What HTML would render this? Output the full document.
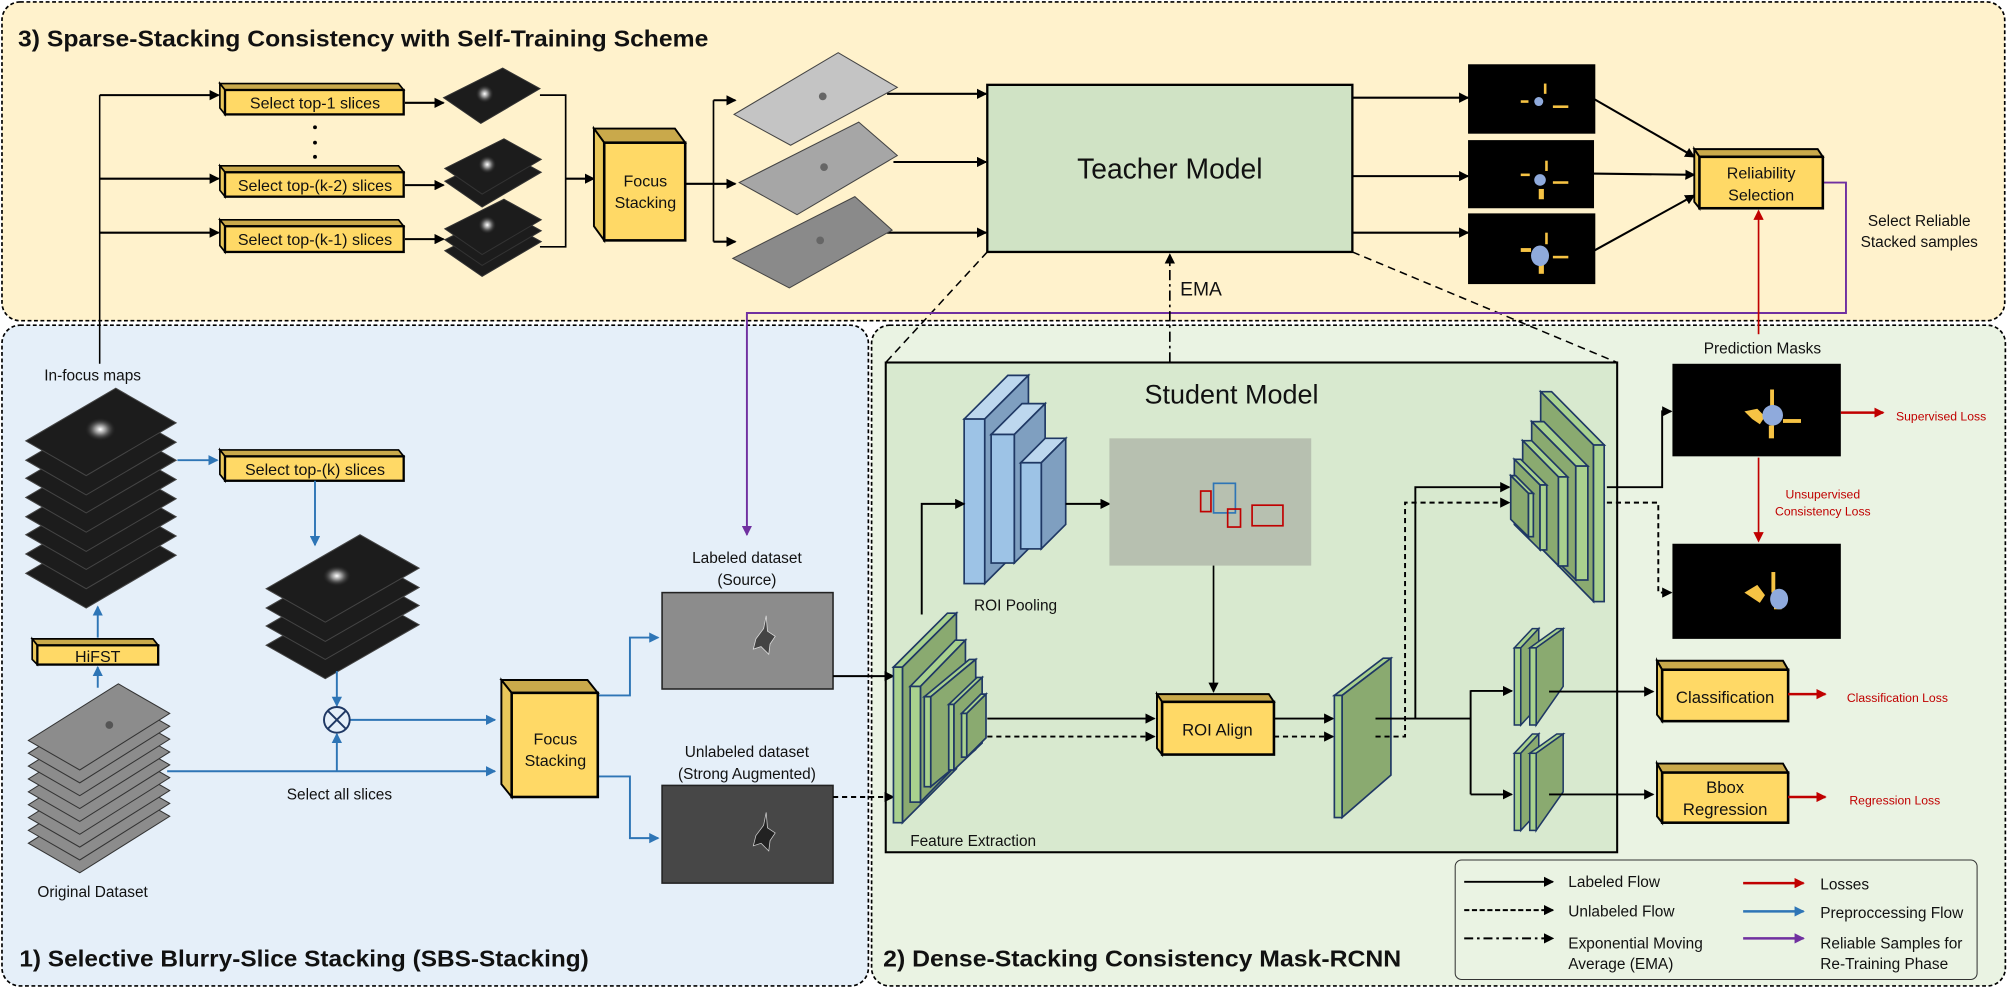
<!DOCTYPE html>
<html><head><meta charset="utf-8"><style>
html,body{margin:0;padding:0;background:#fff;}
svg{display:block;}
text{font-family:"Liberation Sans",sans-serif;fill:#111;}
</style></head><body>
<svg width="2008" height="988" viewBox="0 0 1562 768.6" xmlns="http://www.w3.org/2000/svg">
<defs>
<marker id="ak" markerWidth="8" markerHeight="8" refX="7" refY="4" orient="auto" markerUnits="userSpaceOnUse"><path d="M0,0 L8,4 L0,8 z" fill="#000"/></marker>
<marker id="ab" markerWidth="8" markerHeight="8" refX="7" refY="4" orient="auto" markerUnits="userSpaceOnUse"><path d="M0,0 L8,4 L0,8 z" fill="#2E75B6"/></marker>
<marker id="ar" markerWidth="8" markerHeight="8" refX="7" refY="4" orient="auto" markerUnits="userSpaceOnUse"><path d="M0,0 L8,4 L0,8 z" fill="#C00000"/></marker>
<marker id="ap" markerWidth="8" markerHeight="8" refX="7" refY="4" orient="auto" markerUnits="userSpaceOnUse"><path d="M0,0 L8,4 L0,8 z" fill="#7030A0"/></marker>
<radialGradient id="glow" cx="0.5" cy="0.5" r="0.5"><stop offset="0" stop-color="#fff"/><stop offset="0.4" stop-color="#888"/><stop offset="1" stop-color="#222" stop-opacity="0"/></radialGradient>
</defs>

<!-- panels -->
<rect x="1.5" y="1.5" width="1558" height="248" rx="14" fill="#FFF2CC" stroke="#000" stroke-width="1.3" stroke-dasharray="3,2"/>
<rect x="1.5" y="253" width="674" height="514" rx="14" fill="#E5EFF9" stroke="#000" stroke-width="1.3" stroke-dasharray="3,2"/>
<rect x="678" y="253" width="882" height="514" rx="14" fill="#EAF3E3" stroke="#000" stroke-width="1.3" stroke-dasharray="3,2"/>

<text x="14" y="36" font-size="18" font-weight="bold" textLength="537" lengthAdjust="spacingAndGlyphs">3) Sparse-Stacking Consistency with Self-Training Scheme</text>
<text x="15" y="752" font-size="18" font-weight="bold" textLength="443" lengthAdjust="spacingAndGlyphs">1) Selective Blurry-Slice Stacking (SBS-Stacking)</text>
<text x="687" y="752" font-size="18" font-weight="bold" textLength="403" lengthAdjust="spacingAndGlyphs">2) Dense-Stacking Consistency Mask-RCNN</text>

<!-- student box -->
<rect x="689" y="282" width="569" height="381" fill="#D8E9CF" stroke="#000" stroke-width="1.6"/>
<text x="958" y="314" font-size="21" text-anchor="middle">Student Model</text>

<!-- teacher -->
<rect x="768" y="66" width="284" height="130" fill="#D0E3C5" stroke="#000" stroke-width="1.8"/>
<text x="910" y="139" font-size="22" text-anchor="middle">Teacher Model</text>
<line x1="768" y1="196" x2="689" y2="282" stroke="#000" stroke-width="1.2" stroke-dasharray="6,4"/>
<line x1="1052" y1="196" x2="1258" y2="282" stroke="#000" stroke-width="1.2" stroke-dasharray="6,4"/>

<!-- purple feedback -->
<polyline points="1418,142 1436,142 1436,243.5 581,243.5 581,416" fill="none" stroke="#7030A0" stroke-width="1.5" marker-end="url(#ap)"/>
<text x="1493" y="176" font-size="12" text-anchor="middle">Select Reliable</text>
<text x="1493" y="192" font-size="12" text-anchor="middle">Stacked samples</text>

<!-- left vertical black & select arrows -->
<line x1="77.5" y1="74" x2="77.5" y2="283" stroke="#000" stroke-width="1.2"/>
<g stroke="#000" stroke-width="1.6" fill="none" marker-end="url(#ak)">
<line x1="77.5" y1="74" x2="170" y2="74"/>
<line x1="77.5" y1="139" x2="170" y2="139"/>
<line x1="77.5" y1="181" x2="170" y2="181"/>
<line x1="315" y1="80" x2="345" y2="80"/>
<line x1="315" y1="144" x2="345" y2="144"/>
<line x1="315" y1="186" x2="345" y2="186"/>
<line x1="440" y1="139" x2="462" y2="139"/>
<line x1="555" y1="78" x2="572" y2="78"/>
<line x1="555" y1="143" x2="572" y2="143"/>
<line x1="555" y1="188" x2="572" y2="188"/>
<line x1="690" y1="73" x2="767" y2="73"/>
<line x1="695" y1="126" x2="767" y2="126"/>
<line x1="690" y1="181" x2="767" y2="181"/>
<line x1="1052" y1="76" x2="1142" y2="76"/>
<line x1="1052" y1="137" x2="1142" y2="137"/>
<line x1="1052" y1="181" x2="1142" y2="181"/>
<line x1="1240" y1="77" x2="1318" y2="122"/>
<line x1="1238" y1="135" x2="1318" y2="136"/>
<line x1="1240" y1="195" x2="1318" y2="152"/>
</g>
<polyline points="420,74 440,74 440,192 420,192" fill="none" stroke="#000" stroke-width="1.3"/>
<polyline points="533,143 555,143" fill="none" stroke="#000" stroke-width="1.6"/>
<line x1="555" y1="78" x2="555" y2="188" stroke="#000" stroke-width="1.3"/>
<g fill="#000"><circle cx="245" cy="99" r="1.5"/><circle cx="245" cy="111" r="1.5"/><circle cx="245" cy="122" r="1.5"/></g>

<!-- yellow boxes: select -->
<g stroke="#000" stroke-width="1.3">
<g><polygon points="171,65 310,65 314,70 175,70" fill="#C9A94B"/><polygon points="171,65 175,70 175,89 171,84" fill="#E9C75A"/><rect x="175" y="70" width="139" height="19" fill="#FFD966" stroke-width="1.8"/></g>
<g><polygon points="171,129 310,129 314,134 175,134" fill="#C9A94B"/><polygon points="171,129 175,134 175,153 171,148" fill="#E9C75A"/><rect x="175" y="134" width="139" height="19" fill="#FFD966" stroke-width="1.8"/></g>
<g><polygon points="171,171 310,171 314,176 175,176" fill="#C9A94B"/><polygon points="171,171 175,176 175,196 171,191" fill="#E9C75A"/><rect x="175" y="176" width="139" height="20" fill="#FFD966" stroke-width="1.8"/></g>
<g><polygon points="171,350 310,350 314,355 175,355" fill="#C9A94B"/><polygon points="171,350 175,355 175,374 171,369" fill="#E9C75A"/><rect x="175" y="355" width="139" height="19" fill="#FFD966" stroke-width="1.8"/></g>
</g>
<g font-size="12.5" text-anchor="middle">
<text x="245" y="84.5">Select top-1 slices</text>
<text x="245" y="148.5">Select top-(k-2) slices</text>
<text x="245" y="190.5">Select top-(k-1) slices</text>
<text x="245" y="369.5">Select top-(k) slices</text>
</g>

<!-- focus stacking top -->
<g stroke="#000" stroke-width="1.5">
<polygon points="462,100 525,100 533,111 470,111" fill="#C9A94B"/>
<polygon points="462,100 470,111 470,187 462,176" fill="#E9C75A"/>
<rect x="470" y="111" width="63" height="76" fill="#FFD966" stroke-width="2"/>
</g>
<text x="502" y="145" font-size="12.5" text-anchor="middle">Focus</text>
<text x="502" y="162" font-size="12.5" text-anchor="middle">Stacking</text>

<!-- dark diamonds top -->
<g stroke="#333" stroke-width="0.8" fill="#1c1c1c">
<polygon points="391,53 420,69 374,96 345,76"/>
<polygon points="392,118 421,134 375,161 346,141"/>
<polygon points="392,108 421,124 375,151 346,131"/>
<polygon points="392,172 421,188 375,215 346,195"/>
<polygon points="392,163.5 421,179.5 375,206.5 346,186.5"/>
<polygon points="392,155 421,171 375,198 346,178"/>
</g>
<g fill="url(#glow)"><circle cx="377" cy="73" r="7"/><circle cx="379" cy="128" r="7"/><circle cx="379" cy="175" r="7"/></g>

<!-- gray slides top -->
<g stroke="#444" stroke-width="0.8">
<polygon points="652,41 698,68 615,113 571,89" fill="#C4C4C4"/>
<polygon points="668,95 698,121 620,167 575,142" fill="#A6A6A6"/>
<polygon points="665,153 694,179 614,224 570,201" fill="#8A8A8A"/>
</g>
<g fill="#666"><circle cx="640" cy="75" r="3"/><circle cx="641" cy="130" r="3"/><circle cx="638" cy="187" r="3"/></g>

<!-- masks top -->
<g fill="#000"><rect x="1142" y="50" width="99" height="54"/><rect x="1142" y="109" width="98" height="53"/><rect x="1142" y="166" width="99" height="55"/></g>
<g fill="#F6C344"><rect x="1201" y="65" width="2" height="8"/><rect x="1183" y="78" width="6" height="2"/><rect x="1208" y="82" width="12" height="2"/>
<rect x="1202" y="125" width="2" height="8"/><rect x="1183" y="135" width="7" height="2"/><rect x="1208" y="141" width="12" height="2"/><rect x="1197" y="147" width="4" height="8"/>
<rect x="1202" y="181" width="2" height="9"/><rect x="1183" y="193" width="8" height="3"/><rect x="1208" y="199" width="12" height="2"/><rect x="1197" y="204" width="4" height="9"/></g>
<g fill="#8FAADC"><circle cx="1197" cy="79" r="3.5"/><circle cx="1198" cy="140" r="4.5"/><ellipse cx="1198" cy="199" rx="7" ry="8"/></g>

<!-- reliability -->
<g stroke="#000" stroke-width="1.5">
<polygon points="1318,116 1414,116 1418,122 1322,122" fill="#C9A94B"/>
<polygon points="1318,116 1322,122 1322,162 1318,157" fill="#E9C75A"/>
<rect x="1322" y="122" width="96" height="40" fill="#FFD966" stroke-width="2"/>
</g>
<text x="1370" y="139" font-size="12.5" text-anchor="middle">Reliability</text>
<text x="1370" y="156" font-size="12.5" text-anchor="middle">Selection</text>
<line x1="1368" y1="260" x2="1368" y2="164" stroke="#C00000" stroke-width="1.3" marker-end="url(#ar)"/>

<!-- EMA -->
<line x1="910" y1="282" x2="910" y2="198" stroke="#000" stroke-width="1.3" stroke-dasharray="8,3,2,3" marker-end="url(#ak)"/>
<text x="918" y="230" font-size="15">EMA</text>

<!-- ===== bottom-left ===== -->
<text x="72" y="296" font-size="12" text-anchor="middle">In-focus maps</text>
<g stroke="#444" stroke-width="0.8" fill="#1c1c1c">
<polygon points="90,405 137,432 67,473 20,446"/>
<polygon points="90,390 137,417 67,458 20,431"/>
<polygon points="90,375 137,402 67,443 20,416"/>
<polygon points="90,361 137,388 67,429 20,402"/>
<polygon points="90,346 137,373 67,414 20,387"/>
<polygon points="90,331 137,358 67,399 20,372"/>
<polygon points="90,317 137,344 67,385 20,358"/>
<polygon points="90,302 137,329 67,370 20,343"/>
</g>
<ellipse cx="78" cy="334" rx="12" ry="9" fill="url(#glow)"/>
<line x1="138" y1="358" x2="169" y2="358" stroke="#2E75B6" stroke-width="1.5" marker-end="url(#ab)"/>
<line x1="245" y1="374" x2="245" y2="424" stroke="#2E75B6" stroke-width="1.5" marker-end="url(#ab)"/>

<g stroke="#444" stroke-width="0.8" fill="#1c1c1c">
<polygon points="280,460 326,486 253,528 207,502"/>
<polygon points="280,445 326,471 253,513 207,487"/>
<polygon points="280,431 326,457 253,499 207,473"/>
<polygon points="280,416 326,442 253,484 207,458"/>
</g>
<ellipse cx="262" cy="448" rx="11" ry="8" fill="url(#glow)"/>

<!-- HiFST -->
<g stroke="#000" stroke-width="1.3">
<polygon points="25,497 119,497 123,502 29,502" fill="#C9A94B"/>
<polygon points="25,497 29,502 29,517 25,513" fill="#E9C75A"/>
<rect x="29" y="502" width="94" height="15" fill="#FFD966" stroke-width="1.8"/>
</g>
<text x="76" y="515" font-size="12.5" text-anchor="middle">HiFST</text>
<line x1="76" y1="535" x2="76" y2="519" stroke="#2E75B6" stroke-width="1.5" marker-end="url(#ab)"/>
<line x1="76" y1="496" x2="76" y2="472" stroke="#2E75B6" stroke-width="1.5" marker-end="url(#ab)"/>

<!-- original dataset -->
<g stroke="#333" stroke-width="0.8" fill="#8C8C8C">
<polygon points="92,612 132,635 62,679 22,656"/>
<polygon points="92,602 132,625 62,669 22,646"/>
<polygon points="92,592 132,615 62,659 22,636"/>
<polygon points="92,582 132,605 62,649 22,626"/>
<polygon points="92,572 132,595 62,639 22,616"/>
<polygon points="92,562 132,585 62,629 22,606"/>
<polygon points="92,552 132,575 62,619 22,596"/>
<polygon points="92,542 132,565 62,609 22,586"/>
<polygon points="92,532 132,555 62,599 22,576"/>
</g>
<circle cx="85" cy="564" r="3" fill="#555"/>
<text x="72" y="698" font-size="12" text-anchor="middle">Original Dataset</text>

<g stroke="#2E75B6" stroke-width="1.5" fill="none">
<line x1="130" y1="600" x2="385" y2="600" marker-end="url(#ab)"/>
<line x1="262" y1="600" x2="262" y2="571" marker-end="url(#ab)"/>
<line x1="262" y1="522" x2="262" y2="549" marker-end="url(#ab)"/>
<line x1="272" y1="560" x2="385" y2="560" marker-end="url(#ab)"/>
<polyline points="465,541 490,541 490,496 512,496" marker-end="url(#ab)"/>
<polyline points="465,604 490,604 490,652 512,652" marker-end="url(#ab)"/>
</g>
<circle cx="262" cy="560" r="10" fill="#fff" fill-opacity="0" stroke="#1F3864" stroke-width="1.5"/>
<line x1="255" y1="553" x2="269" y2="567" stroke="#1F3864" stroke-width="1.5"/>
<line x1="269" y1="553" x2="255" y2="567" stroke="#1F3864" stroke-width="1.5"/>
<text x="264" y="622" font-size="12" text-anchor="middle">Select all slices</text>

<g stroke="#000" stroke-width="1.5">
<polygon points="390,529 457,529 465,539 398,539" fill="#C9A94B"/>
<polygon points="390,529 398,539 398,620 390,610" fill="#E9C75A"/>
<rect x="398" y="539" width="67" height="81" fill="#FFD966" stroke-width="2"/>
</g>
<text x="432" y="579" font-size="12.5" text-anchor="middle">Focus</text>
<text x="432" y="596" font-size="12.5" text-anchor="middle">Stacking</text>

<text x="581" y="438" font-size="12" text-anchor="middle">Labeled dataset</text>
<text x="581" y="455" font-size="12" text-anchor="middle">(Source)</text>
<rect x="515" y="461" width="133" height="75" fill="#8C8C8C" stroke="#222" stroke-width="1.2"/>
<path d="M588,497 l6,-8 l2,-10 l1,12 l6,4 l-4,6 l-1,8 l-6,-6 l-6,2z" fill="#444" stroke="#ddd" stroke-width="0.6"/>
<text x="581" y="589" font-size="12" text-anchor="middle">Unlabeled dataset</text>
<text x="581" y="606" font-size="12" text-anchor="middle">(Strong Augmented)</text>
<rect x="515" y="611" width="133" height="76" fill="#474747" stroke="#222" stroke-width="1.2"/>
<path d="M588,650 l6,-8 l2,-10 l1,12 l6,4 l-4,6 l-1,8 l-6,-6 l-6,2z" fill="#222" stroke="#ccc" stroke-width="0.6"/>

<line x1="648" y1="526" x2="695" y2="526" stroke="#000" stroke-width="1.6" marker-end="url(#ak)"/>
<line x1="648" y1="620" x2="695" y2="620" stroke="#000" stroke-width="1.6" stroke-dasharray="4,3" marker-end="url(#ak)"/>

<!-- ===== student internals ===== -->
<!-- ROI pooling blue slabs -->
<g stroke="#1F3864" stroke-width="1.3">
<polygon points="750,326 784,292 800,292 766,326" fill="#BDD7EE"/>
<polygon points="766,326 800,292 800,420 766,454" fill="#7F9FC0"/>
<rect x="750" y="326" width="16" height="128" fill="#9DC3E6"/>
<polygon points="771,338 795,314 813,314 789,338" fill="#BDD7EE"/>
<polygon points="789,338 813,314 813,414 789,438" fill="#7F9FC0"/>
<rect x="771" y="338" width="18" height="100" fill="#9DC3E6"/>
<polygon points="794,360 813,341 829,341 810,360" fill="#BDD7EE"/>
<polygon points="810,360 829,341 829,408 810,427" fill="#7F9FC0"/>
<rect x="794" y="360" width="16" height="67" fill="#9DC3E6"/>
</g>
<text x="790" y="475" font-size="12" text-anchor="middle">ROI Pooling</text>

<!-- feature extraction green slabs -->
<g stroke="#1F3864" stroke-width="1.3">
<polygon points="695,519 737,477 744,477 702,519" fill="#A9D18E"/>
<polygon points="702,519 744,477 744,598 702,640" fill="#8AAA70"/>
<rect x="695" y="519" width="7" height="121" fill="#A9D18E"/>
<polygon points="708,534 743,498 751,498 716,534" fill="#A9D18E"/>
<polygon points="716,534 751,498 751,588 716,624" fill="#8AAA70"/>
<rect x="708" y="534" width="8" height="90" fill="#A9D18E"/>
<polygon points="719,542 754,513 759,513 724,542" fill="#A9D18E"/>
<polygon points="724,542 759,513 759,583 724,612" fill="#8AAA70"/>
<rect x="719" y="542" width="5" height="70" fill="#A9D18E"/>
<polygon points="738,548 760,527 764,527 742,548" fill="#A9D18E"/>
<polygon points="742,548 764,527 764,578 742,599" fill="#8AAA70"/>
<rect x="738" y="548" width="4" height="51" fill="#A9D18E"/>
<polygon points="748,555 763,540 767,540 752,555" fill="#A9D18E"/>
<polygon points="752,555 767,540 767,574 752,589" fill="#8AAA70"/>
<rect x="748" y="555" width="4" height="34" fill="#A9D18E"/>
</g>
<text x="757" y="658" font-size="12" text-anchor="middle">Feature Extraction</text>

<polyline points="717,478 717,392 750,392" fill="none" stroke="#000" stroke-width="1.5" marker-end="url(#ak)"/>
<line x1="829" y1="392" x2="863" y2="392" stroke="#000" stroke-width="1.5" marker-end="url(#ak)"/>

<!-- gray image with boxes -->
<rect x="863" y="341" width="157" height="99" fill="#B7C0B0"/>
<g fill="none" stroke-width="1.3">
<rect x="944" y="376" width="17" height="23" stroke="#2E75B6"/>
<rect x="934" y="382" width="8" height="16" stroke="#C00000"/>
<rect x="955" y="396" width="10" height="14" stroke="#C00000"/>
<rect x="974" y="393" width="24" height="16" stroke="#C00000"/>
</g>
<line x1="944" y1="440" x2="944" y2="538" stroke="#000" stroke-width="1.3" marker-end="url(#ak)"/>

<!-- ROI align -->
<g stroke="#000" stroke-width="1.5">
<polygon points="900,540 987,540 991,546 904,546" fill="#C9A94B"/>
<polygon points="900,540 904,546 904,587 900,582" fill="#E9C75A"/>
<rect x="904" y="546" width="87" height="41" fill="#FFD966" stroke-width="2"/>
</g>
<text x="947" y="572" font-size="13" text-anchor="middle">ROI Align</text>
<line x1="768" y1="559" x2="898" y2="559" stroke="#000" stroke-width="1.5" marker-end="url(#ak)"/>
<line x1="768" y1="573" x2="898" y2="573" stroke="#000" stroke-width="1.5" stroke-dasharray="4,3" marker-end="url(#ak)"/>
<line x1="991" y1="559" x2="1037" y2="559" stroke="#000" stroke-width="1.5" marker-end="url(#ak)"/>
<line x1="991" y1="573" x2="1037" y2="573" stroke="#000" stroke-width="1.5" stroke-dasharray="4,3" marker-end="url(#ak)"/>

<!-- tall slab -->
<g stroke="#1F3864" stroke-width="1.3">
<polygon points="1038,541 1076,512 1082,512 1044,541" fill="#A9D18E"/>
<polygon points="1044,541 1082,512 1082,603 1044,636" fill="#8AAA70"/>
<rect x="1038" y="541" width="6" height="95" fill="#A9D18E"/>
</g>

<!-- lines to mask head / box heads -->
<polyline points="1070,559 1101,559 1101,379 1174,379" fill="none" stroke="#000" stroke-width="1.5" marker-end="url(#ak)"/>
<polyline points="1070,573 1093,573 1093,391 1174,391" fill="none" stroke="#000" stroke-width="1.5" stroke-dasharray="4,3" marker-end="url(#ak)"/>
<polyline points="1101,559 1144,559" fill="none" stroke="#000" stroke-width="1.5"/>
<polyline points="1144,537 1144,618" fill="none" stroke="#000" stroke-width="1.5"/>
<line x1="1144" y1="537.5" x2="1176" y2="537.5" stroke="#000" stroke-width="1.5" marker-end="url(#ak)"/>
<line x1="1144" y1="618" x2="1176" y2="618" stroke="#000" stroke-width="1.5" marker-end="url(#ak)"/>

<!-- mask head slabs (front on right) -->
<g stroke="#1F3864" stroke-width="1.3">
<polygon points="1198.5,304.7 1207,304.7 1248,346.2 1239.6,346.2" fill="#A9D18E"/>
<polygon points="1198.5,304.7 1239.6,346.2 1239.6,468 1198.5,426" fill="#8AAA70"/>
<rect x="1239.6" y="346.2" width="8.3" height="121.8" fill="#A9D18E"/>
<polygon points="1191.5,328 1201,328 1235.2,362.6 1225.8,362.6" fill="#A9D18E"/>
<polygon points="1191.5,328 1225.8,362.6 1225.8,451 1191.5,417" fill="#8AAA70"/>
<rect x="1225.8" y="362.6" width="9.4" height="88.6" fill="#A9D18E"/>
<polygon points="1184.5,342.8 1191.5,342.8 1219.5,371 1212.3,371" fill="#A9D18E"/>
<polygon points="1184.5,342.8 1212.3,371 1212.3,440 1184.5,412" fill="#8AAA70"/>
<rect x="1212.3" y="371" width="7.2" height="69.3" fill="#A9D18E"/>
<polygon points="1178,357.3 1183,357.3 1203.2,377.3 1198,377.3" fill="#A9D18E"/>
<polygon points="1178,357.3 1198,377.3 1198,427.8 1178,408" fill="#8AAA70"/>
<rect x="1198" y="377.3" width="5.2" height="50.5" fill="#A9D18E"/>
<polygon points="1175.2,370 1179,370 1192.8,383.8 1189,383.8" fill="#A9D18E"/>
<polygon points="1175.2,370 1189,383.8 1189,417.5 1175.2,404" fill="#8AAA70"/>
<rect x="1189" y="383.8" width="3.8" height="33.7" fill="#A9D18E"/>
</g>

<!-- small slab pairs -->
<g stroke="#1F3864" stroke-width="1.2">
<polygon points="1178,504 1192,489 1197,489 1183,504" fill="#A9D18E"/><polygon points="1183,504 1197,489 1197,549 1183,564" fill="#8AAA70"/><rect x="1178" y="504" width="5" height="60" fill="#A9D18E"/>
<polygon points="1190,504 1211,489 1216,489 1195,504" fill="#A9D18E"/><polygon points="1195,504 1216,489 1216,534 1195,564" fill="#8AAA70"/><rect x="1190" y="504" width="5" height="60" fill="#A9D18E"/>
<polygon points="1178,586 1192,571 1197,571 1183,586" fill="#A9D18E"/><polygon points="1183,586 1197,571 1197,631 1183,646" fill="#8AAA70"/><rect x="1178" y="586" width="5" height="60" fill="#A9D18E"/>
<polygon points="1190,586 1211,571 1216,571 1195,586" fill="#A9D18E"/><polygon points="1195,586 1216,571 1216,616 1195,646" fill="#8AAA70"/><rect x="1190" y="586" width="5" height="60" fill="#A9D18E"/>
</g>
<line x1="1205" y1="538" x2="1286" y2="538" stroke="#000" stroke-width="1.5" marker-end="url(#ak)"/>
<line x1="1205" y1="618" x2="1286" y2="618" stroke="#000" stroke-width="1.5" marker-end="url(#ak)"/>

<!-- classification / bbox -->
<g stroke="#000" stroke-width="1.5">
<polygon points="1289,514 1387,514 1391,521 1293,521" fill="#C9A94B"/>
<polygon points="1289,514 1293,521 1293,561 1289,556" fill="#E9C75A"/>
<rect x="1293" y="521" width="98" height="40" fill="#FFD966" stroke-width="2"/>
<polygon points="1289,594 1387,594 1391,601 1293,601" fill="#C9A94B"/>
<polygon points="1289,594 1293,601 1293,640 1289,635" fill="#E9C75A"/>
<rect x="1293" y="601" width="98" height="39" fill="#FFD966" stroke-width="2"/>
</g>
<text x="1342" y="547" font-size="13" text-anchor="middle">Classification</text>
<text x="1342" y="617" font-size="13" text-anchor="middle">Bbox</text>
<text x="1342" y="634" font-size="13" text-anchor="middle">Regression</text>
<line x1="1391" y1="540" x2="1420" y2="540" stroke="#C00000" stroke-width="2" marker-end="url(#ar)"/>
<line x1="1391" y1="620" x2="1420" y2="620" stroke="#C00000" stroke-width="2" marker-end="url(#ar)"/>
<text x="1476" y="546" font-size="9.5" fill="#C00000" text-anchor="middle" style="fill:#C00000">Classification Loss</text>
<text x="1474" y="626" font-size="9.5" text-anchor="middle" style="fill:#C00000">Regression Loss</text>

<!-- prediction masks -->
<text x="1371" y="275" font-size="12" text-anchor="middle">Prediction Masks</text>
<rect x="1301" y="283" width="131" height="72" fill="#000"/>
<rect x="1301" y="423" width="131" height="74" fill="#000"/>
<g fill="#F6C344">
<path d="M1357,320 l10,-2 l6,6 l-4,6 l-6,-4z"/><rect x="1377" y="303" width="3" height="14"/><rect x="1387" y="326" width="14" height="3"/><rect x="1376" y="331" width="4" height="10"/>
<path d="M1357,461 l10,-6 l6,8 l-4,6 l-6,-4z"/><rect x="1378" y="445" width="3" height="16"/><rect x="1380" y="460" width="6" height="14"/>
</g>
<g fill="#8FAADC"><ellipse cx="1379" cy="323" rx="8" ry="8"/><ellipse cx="1384" cy="466" rx="7" ry="8"/></g>
<polyline points="1250,379 1293,379 1293,320 1300,320" fill="none" stroke="#000" stroke-width="1.5" marker-end="url(#ak)"/>
<polyline points="1250,391 1290,391 1290,461 1300,461" fill="none" stroke="#000" stroke-width="1.5" stroke-dasharray="4,3" marker-end="url(#ak)"/>
<line x1="1432" y1="321" x2="1465" y2="321" stroke="#C00000" stroke-width="2" marker-end="url(#ar)"/>
<text x="1510" y="327" font-size="9.5" text-anchor="middle" style="fill:#C00000">Supervised Loss</text>
<line x1="1368" y1="356" x2="1368" y2="421" stroke="#C00000" stroke-width="1.3" marker-end="url(#ar)"/>
<text x="1418" y="388" font-size="9.5" text-anchor="middle" style="fill:#C00000">Unsupervised</text>
<text x="1418" y="401" font-size="9.5" text-anchor="middle" style="fill:#C00000">Consistency Loss</text>

<!-- legend -->
<rect x="1132" y="669" width="406" height="93" rx="5" fill="#EAF3E3" stroke="#333" stroke-width="0.8"/>
<line x1="1139" y1="686" x2="1208" y2="686" stroke="#000" stroke-width="1.5" marker-end="url(#ak)"/>
<line x1="1139" y1="708" x2="1208" y2="708" stroke="#000" stroke-width="1.5" stroke-dasharray="4,2" marker-end="url(#ak)"/>
<line x1="1139" y1="730" x2="1208" y2="730" stroke="#000" stroke-width="1.5" stroke-dasharray="7,3,2,3" marker-end="url(#ak)"/>
<line x1="1356" y1="687" x2="1403" y2="687" stroke="#C00000" stroke-width="2" marker-end="url(#ar)"/>
<line x1="1356" y1="709" x2="1403" y2="709" stroke="#2E75B6" stroke-width="2" marker-end="url(#ab)"/>
<line x1="1356" y1="730" x2="1403" y2="730" stroke="#7030A0" stroke-width="2" marker-end="url(#ap)"/>
<g font-size="12">
<text x="1220" y="690">Labeled Flow</text>
<text x="1220" y="713">Unlabeled Flow</text>
<text x="1220" y="738">Exponential Moving</text>
<text x="1220" y="754">Average (EMA)</text>
<text x="1416" y="692">Losses</text>
<text x="1416" y="714">Preproccessing Flow</text>
<text x="1416" y="738">Reliable Samples for</text>
<text x="1416" y="754">Re-Training Phase</text>
</g>
</svg>
</body></html>
